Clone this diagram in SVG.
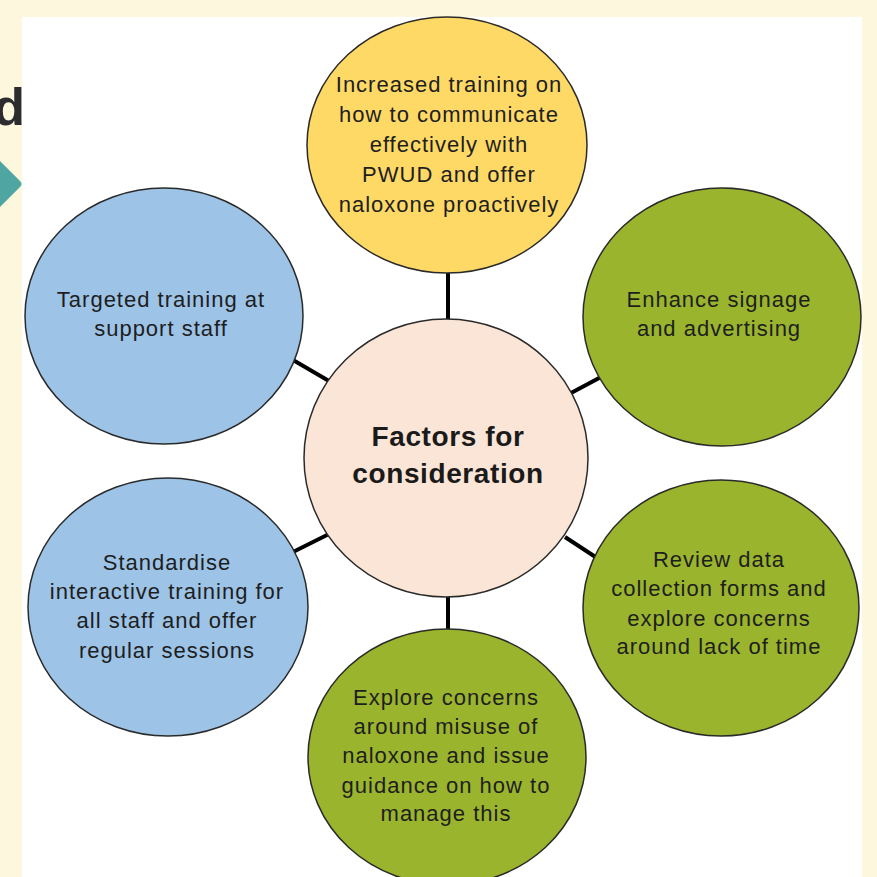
<svg xmlns="http://www.w3.org/2000/svg" width="877" height="877" viewBox="0 0 877 877">
<defs>
<style>
.node{stroke:#2a2a2a;stroke-width:1.5}
.yellow{fill:#FFD966}
.blue{fill:#9DC3E6}
.green{fill:#9AB52D}
.peach{fill:#FBE5D6}
.t{font-family:"Liberation Sans",Arial,sans-serif;font-size:22px;letter-spacing:1px;fill:#1e1e1e;text-anchor:middle}
.tc{font-family:"Liberation Sans",Arial,sans-serif;font-size:28px;font-weight:bold;letter-spacing:0.6px;fill:#1a1a1a;text-anchor:middle}
.conn line{stroke:#000;stroke-width:4;stroke-linecap:butt}
</style>
</defs>
<rect x="0" y="0" width="877" height="877" fill="#FDF7DD"/>
<text x="25" y="125" font-family="Liberation Sans,Arial,sans-serif" font-size="52" font-weight="bold" fill="#2b2b30" text-anchor="end">d</text>
<path d="M0,161 L20,181 Q23,184 20,187 L0,207 Z" fill="#4FA5A1"/>
<rect x="22" y="17" width="840" height="870" fill="#FFFFFF"/>
<g id="connectors" class="conn">
<line x1="448" y1="272" x2="448" y2="321"/>
<line x1="448" y1="596" x2="448" y2="630"/>
<line x1="293" y1="360" x2="329" y2="381"/>
<line x1="571" y1="393" x2="601" y2="377"/>
<line x1="293" y1="552" x2="329" y2="534"/>
<line x1="565" y1="537" x2="597" y2="558"/>
</g>
<g id="node-center">
<ellipse class="node peach" cx="446" cy="458" rx="142" ry="139"/>
<text class="tc" x="448" y="446">Factors  for</text>
<text class="tc" x="448" y="483">consideration</text>
</g>
<g id="node-top">
<ellipse class="node yellow" cx="447" cy="145" rx="140" ry="128"/>
<text class="t" x="449" y="92">Increased training on</text>
<text class="t" x="449" y="122">how to communicate</text>
<text class="t" x="449" y="152">effectively with</text>
<text class="t" x="449" y="182">PWUD  and offer</text>
<text class="t" x="449" y="212">naloxone proactively</text>
</g>
<g id="node-top-left">
<ellipse class="node blue" cx="164" cy="316" rx="139" ry="128"/>
<text class="t" x="161" y="307">Targeted training at</text>
<text class="t" x="161" y="336">support staff</text>
</g>
<g id="node-top-right">
<ellipse class="node green" cx="722" cy="317" rx="139" ry="129"/>
<text class="t" x="719" y="307">Enhance signage</text>
<text class="t" x="719" y="336">and advertising</text>
</g>
<g id="node-bottom-left">
<ellipse class="node blue" cx="168" cy="607" rx="140" ry="129"/>
<text class="t" x="167" y="570">Standardise</text>
<text class="t" x="167" y="599">interactive training for</text>
<text class="t" x="167" y="628">all staff and offer</text>
<text class="t" x="167" y="658">regular sessions</text>
</g>
<g id="node-bottom-right">
<ellipse class="node green" cx="721" cy="608" rx="138" ry="128"/>
<text class="t" x="719" y="567">Review data</text>
<text class="t" x="719" y="596">collection forms and</text>
<text class="t" x="719" y="626">explore concerns</text>
<text class="t" x="719" y="654">around lack of time</text>
</g>
<g id="node-bottom">
<ellipse class="node green" cx="447" cy="757" rx="139" ry="128"/>
<text class="t" x="446" y="705">Explore concerns</text>
<text class="t" x="446" y="734">around misuse of</text>
<text class="t" x="446" y="763">naloxone and issue</text>
<text class="t" x="446" y="793">guidance on how to</text>
<text class="t" x="446" y="821">manage this</text>
</g>
</svg>
